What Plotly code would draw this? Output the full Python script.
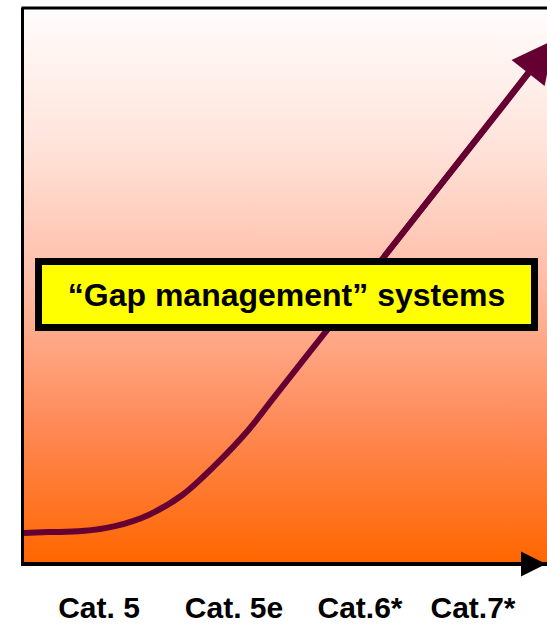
import plotly.graph_objects as go

# cable categories along the bottom axis
categories = ["Cat. 5", "Cat. 5e", "Cat.6*", "Cat.7*"]
category_pos = [75, 210, 336, 449]

# rising curve (x, y in axis units)
curve_x = [0, 24, 58, 91, 124, 158, 191, 224, 249, 304, 359, 484, 505]
curve_y = [29, 30, 31, 36, 47, 67, 97, 132, 164, 234, 305, 464, 491]
arrow_tip = (530, 524)

box_label = "\u201cGap management\u201d systems"

X_RANGE = [0, 523]
Y_RANGE = [0, 556]

CURVE_COLOR = "#660033"
FONT = "Liberation Sans"

fig = go.Figure()

# gradient backdrop filling the plot area
fig.add_trace(
    go.Scatter(
        x=[X_RANGE[0], X_RANGE[1], X_RANGE[1], X_RANGE[0], X_RANGE[0]],
        y=[Y_RANGE[0], Y_RANGE[0], Y_RANGE[1], Y_RANGE[1], Y_RANGE[0]],
        mode="lines",
        line=dict(width=0),
        fill="toself",
        fillgradient=dict(
            type="vertical",
            colorscale=[
                [0.0, "#ff6600"],
                [0.25, "#ff8a58"],
                [0.5, "#ffbba4"],
                [0.75, "#ffe3da"],
                [1.0, "#fffdfd"],
            ],
        ),
        hoverinfo="skip",
        showlegend=False,
    )
)

fig.add_trace(
    go.Scatter(
        x=curve_x,
        y=curve_y,
        mode="lines",
        line=dict(color=CURVE_COLOR, width=6, shape="spline", smoothing=0.9),
        hoverinfo="skip",
        showlegend=False,
    )
)

annotations = [
    # arrow head at the end of the curve (tail overlaps the last straight stretch)
    dict(
        x=arrow_tip[0], y=arrow_tip[1], xref="x", yref="y",
        ax=curve_x[-3], ay=curve_y[-3], axref="x", ayref="y",
        text="", showarrow=True,
        arrowhead=2, arrowsize=1.4, arrowwidth=6, arrowcolor=CURVE_COLOR,
        standoff=0,
    ),
    # arrow on the x axis
    dict(
        x=1.0, y=0, xref="paper", yref="paper",
        ax=-40, ay=0, text="", showarrow=True,
        arrowhead=2, arrowsize=1.25, arrowwidth=4, arrowcolor="black",
        standoff=0, yshift=-2,
    ),
    # yellow label box
    dict(
        x=0.502, y=0.483, xref="paper", yref="paper",
        text=box_label, showarrow=False,
        font=dict(family=FONT, size=32, color="black", weight="bold"),
        bgcolor="#ffff00", bordercolor="black", borderwidth=7, borderpad=0,
        width=489, height=59, align="center", valign="middle",
    ),
]

fig.update_layout(
    width=547,
    height=624,
    margin=dict(l=24, r=0, t=8, b=60),
    paper_bgcolor="white",
    plot_bgcolor="white",
    annotations=annotations,
    shapes=[
        dict(type="line", xref="paper", yref="paper", x0=-0.005, x1=1.0, y0=1, y1=1,
             line=dict(color="black", width=3)),
    ],
    showlegend=False,
)

fig.update_xaxes(
    range=X_RANGE,
    tickvals=category_pos,
    ticktext=categories,
    tickfont=dict(family=FONT, size=30, color="black", weight="bold"),
    ticks="outside",
    ticklen=16,
    tickcolor="rgba(0,0,0,0)",
    showgrid=False,
    zeroline=False,
    showline=True,
    linecolor="black",
    linewidth=4,
)
fig.update_yaxes(
    range=Y_RANGE,
    showticklabels=False,
    showgrid=False,
    zeroline=False,
    showline=True,
    linecolor="black",
    linewidth=3,
)

fig.write_html(
    "out.html",
    config={"displayModeBar": False},
    post_script="document.body.style.margin='0';",
)
